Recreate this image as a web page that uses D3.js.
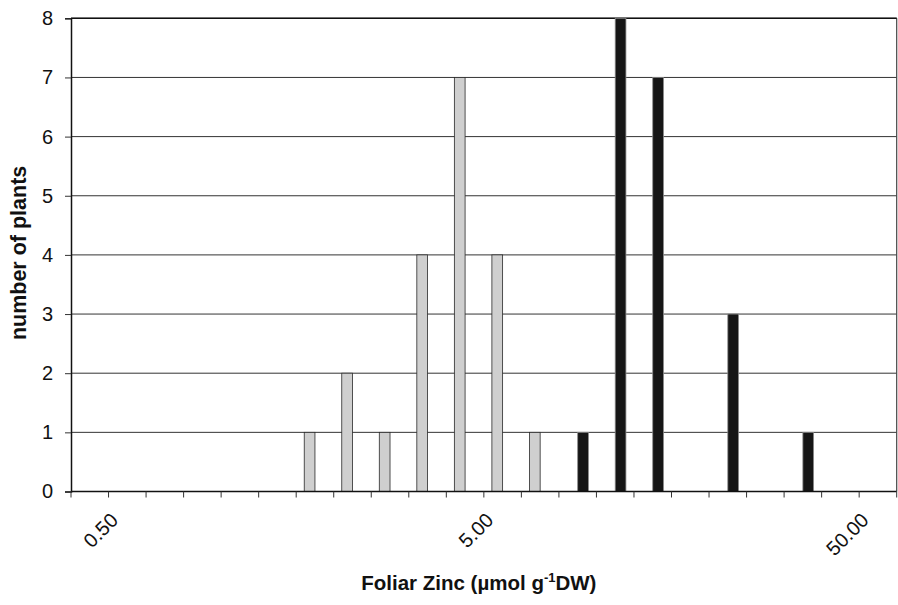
<!DOCTYPE html>
<html>
<head>
<meta charset="utf-8">
<script src="https://cdn.jsdelivr.net/npm/d3@7"></script>
<style>
  html, body { margin: 0; padding: 0; background: #fff; }
  svg { display: block; font-family: "Liberation Sans", Arial, sans-serif; }
</style>
</head>
<body>
<svg id="chart" width="898" height="605"></svg>
<script>
// Category bins (log-spaced foliar zinc classes, µmol g-1 DW)
const categories = ["0.40","0.50","0.63","0.79","1.00","1.26","1.58","1.99","2.51","3.16","3.98",
                    "5.00","6.29","7.92","9.98","12.56","15.81","19.91","25.06","31.55","39.72","50.00"];
// Series values (number of plants per bin)
const seriesNames = ["grey", "black"];
const greyValues  = [0,0,0,0,0,0,1,2,1,4,7,4,1,0,0,0,0,0,0,0,0,0];
const blackValues = [0,0,0,0,0,0,0,0,0,0,0,0,0,1,8,7,0,3,0,1,0,0];
// Tick labels shown on the x axis
const xTickLabels = ["0.50","5.00","50.00"];
const yTicks = [0,1,2,3,4,5,6,7,8];

(function () {
const svg = d3.select("#chart");
const mLeft = 71, mRight = 896.7, mTop = 18.3, mBottom = 491.5;

const x = d3.scaleBand().domain(categories).range([mLeft, mRight]).paddingInner(0).paddingOuter(0);
const x1 = d3.scaleBand().domain(seriesNames).range([0, x.bandwidth()]).paddingInner(0).paddingOuter(0.75);
const y = d3.scaleLinear().domain([0, 8]).range([mBottom, mTop]);

// gridlines
svg.append("g").selectAll("line").data(yTicks.filter(d => d > 0)).join("line")
  .attr("x1", mLeft).attr("x2", mRight)
  .attr("y1", d => y(d)).attr("y2", d => y(d))
  .attr("stroke", "#333").attr("stroke-width", 1);

// right border
svg.append("line").attr("x1", mRight).attr("x2", mRight).attr("y1", mTop).attr("y2", mBottom)
  .attr("stroke", "#444").attr("stroke-width", 1.2);
// top border
svg.append("line").attr("x1", mLeft).attr("x2", mRight).attr("y1", mTop).attr("y2", mTop)
  .attr("stroke", "#111").attr("stroke-width", 1.5);

// bars
const rows = categories.map((c, i) => ({cat: c, grey: greyValues[i], black: blackValues[i]}));
const colors = {grey: "#cfcfcf", black: "#161616"};
const strokes = {grey: "#2a2a2a", black: "#8a8a8a"};
seriesNames.forEach(s => {
  svg.append("g").selectAll("rect").data(rows.filter(r => r[s] > 0)).join("rect")
    .attr("x", r => x(r.cat) + x1(s))
    .attr("width", x1.bandwidth())
    .attr("y", r => y(r[s]))
    .attr("height", r => y(0) - y(r[s]))
    .attr("fill", colors[s])
    .attr("stroke", strokes[s])
    .attr("stroke-width", 0.8);
});

// y axis
const yAxis = d3.axisLeft(y).tickValues(yTicks).tickSize(6).tickPadding(12).tickFormat(d3.format("d"));
const gy = svg.append("g").attr("transform", `translate(${mLeft},0)`).call(yAxis);
gy.attr("font-size", 20).attr("font-family", "Liberation Sans, Arial, sans-serif");
gy.select(".domain").attr("stroke", "#111").attr("stroke-width", 1.5);
gy.selectAll(".tick line").attr("stroke", "#333");
gy.selectAll(".tick text").attr("font-size", 20).attr("fill", "#111");

// x axis line
svg.append("line").attr("x1", mLeft).attr("x2", mRight).attr("y1", mBottom).attr("y2", mBottom)
  .attr("stroke", "#111").attr("stroke-width", 1.5);
// x tick marks at category boundaries
const boundaries = categories.map(c => x(c)).concat([x(categories[categories.length - 1]) + x.bandwidth()]);
svg.append("g").selectAll("line").data(boundaries).join("line")
  .attr("x1", d => d).attr("x2", d => d)
  .attr("y1", mBottom).attr("y2", mBottom + 6)
  .attr("stroke", "#333").attr("stroke-width", 1);

// x tick labels
svg.append("g").selectAll("text").data(xTickLabels).join("text")
  .attr("transform", d => `translate(${x(d) + x.bandwidth() / 2 - 8},${521.5}) rotate(-45)`)
  .attr("text-anchor", "end")
  .attr("font-size", 20)
  .attr("fill", "#111")
  .text(d => d);

// axis titles
const xt = svg.append("text")
  .attr("x", (mLeft + mRight) / 2 - 5).attr("y", 590)
  .attr("text-anchor", "middle")
  .attr("font-size", 20.5).attr("font-weight", "bold").attr("fill", "#111");
xt.append("tspan").text("Foliar Zinc (");
xt.append("tspan").text("µ");
xt.append("tspan").text("mol g");
xt.append("tspan").attr("font-size", 13).attr("dy", -8).text("-1");
xt.append("tspan").attr("dy", 8).text("DW)");

svg.append("text")
  .attr("transform", `translate(26,${(mTop + mBottom) / 2 - 2}) rotate(-90)`)
  .attr("text-anchor", "middle")
  .attr("font-size", 21.5).attr("font-weight", "bold").attr("fill", "#111")
  .text("number of plants");
})();
</script>
</body>
</html>
